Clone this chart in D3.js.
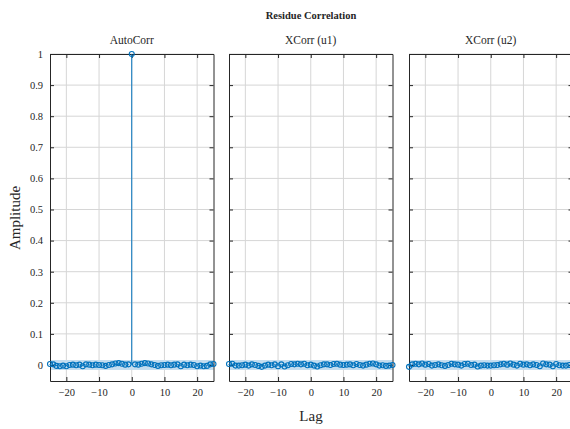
<!DOCTYPE html>
<html>
<head>
<meta charset="utf-8">
<script src="https://cdn.jsdelivr.net/npm/d3@7"></script>
<style>
body { margin: 0; background: #fff; }
text { font-family: "Liberation Serif", "DejaVu Serif", serif; fill: #262626; }
</style>
</head>
<body>
<svg id="chart" width="570" height="429"></svg>
<script>
var width = 570;
var height = 429;

var lags = d3.range(-25, 26);
var yTicks = [0, 0.1, 0.2, 0.3, 0.4, 0.5, 0.6, 0.7, 0.8, 0.9, 1];
var xTicks = [-20, -10, 0, 10, 20];
var confBound = 0.016;

var autoCorr = [0.003, 0.002, -0.003, -0.004, -0.002, -0.004, 0.000, 0.001, -0.001, 0.001,
	-0.004, 0.002, 0.001, -0.001, 0.001, 0.000, -0.001, -0.003, 0.000, 0.002,
	0.005, 0.006, 0.004, 0.001, 0.002, 1,
	0.002, 0.001, 0.004, 0.006, 0.005, 0.002, 0.000, -0.003, -0.001, 0.000,
	0.001, -0.001, 0.001, 0.002, -0.004, 0.001, -0.001, 0.001, 0.000, -0.004,
	-0.002, -0.004, -0.003, 0.002, 0.003];

var xCorrU1 = [0.003, 0.004, -0.002, -0.002, -0.001, 0.001, -0.002, 0.002, 0.000, -0.003,
	-0.006, -0.002, 0.001, -0.001, 0.002, -0.004, 0.002, -0.005, -0.001, 0.003,
	0.002, 0.004, 0.002, 0.004, -0.001, 0.001,
	-0.002, -0.005, -0.001, 0.002, 0.002, 0.000, 0.003, 0.004, 0.001, 0.000,
	0.001, 0.002, -0.001, 0.003, 0.000, -0.002, 0.001, 0.004, 0.005, 0.002,
	-0.002, -0.001, -0.003, -0.002, 0.000];

var xCorrU2 = [-0.006, 0.002, 0.004, 0.002, 0.005, 0.001, 0.003, -0.002, 0.000, 0.002,
	-0.001, -0.003, 0.000, 0.004, 0.002, 0.001, -0.002, 0.003, 0.004, 0.000,
	0.001, -0.005, -0.002, -0.001, -0.002, -0.002,
	-0.001, 0.000, 0.002, 0.004, 0.001, 0.005, 0.001, -0.002, 0.004, 0.001,
	0.002, -0.001, 0.002, 0.000, -0.004, 0.005, 0.002, 0.001, -0.004, 0.003,
	-0.001, -0.002, -0.002, 0.000, -0.002];

var panels = [
	{ title: 'AutoCorr', values: autoCorr, x0: 50, x1: 213.5, labels: true },
	{ title: 'XCorr (u1)', values: xCorrU1, x0: 229, x1: 392.5, labels: false },
	{ title: 'XCorr (u2)', values: xCorrU2, x0: 409, x1: 572.5, labels: false }
];

var plotTop = 54, plotBottom = 381;
var blue = '#0072bd';

var svg = d3.select('#chart');

var y = d3.scaleLinear().domain([-0.0515, 1]).range([plotBottom, plotTop]);

panels.forEach(function(p, i) {
	var x = d3.scaleLinear().domain([-25, 25]).range([p.x0, p.x1]);
	var g = svg.append('g');

	// grid
	g.selectAll('.vgrid').data(xTicks).enter().append('line')
	.attr('x1', function(d) { return x(d); }).attr('x2', function(d) { return x(d); })
	.attr('y1', plotTop).attr('y2', plotBottom)
	.style('stroke', '#d6d6d6').style('stroke-width', 1);
	g.selectAll('.hgrid').data(yTicks).enter().append('line')
	.attr('x1', p.x0).attr('x2', p.x1)
	.attr('y1', function(d) { return y(d); }).attr('y2', function(d) { return y(d); })
	.style('stroke', '#d6d6d6').style('stroke-width', 1);

	// confidence band
	g.append('rect')
	.attr('x', p.x0).attr('width', p.x1 - p.x0)
	.attr('y', y(confBound)).attr('height', y(-confBound) - y(confBound))
	.style('fill', '#c4ddef');

	// axes with inward ticks
	var bottomAxis = d3.axisBottom(x).tickValues(xTicks).tickSizeInner(-4).tickSizeOuter(0).tickPadding(8)
	.tickFormat(function(d) { return d < 0 ? '\u2212' + Math.abs(d) : d; });
	var topAxis = d3.axisTop(x).tickValues(xTicks).tickSizeInner(-4).tickSizeOuter(0).tickFormat('');
	var leftAxis = d3.axisLeft(y).tickValues(yTicks).tickSizeInner(-4).tickSizeOuter(0).tickPadding(7)
	.tickFormat(p.labels ? function(d) { return d; } : '');
	var rightAxis = d3.axisRight(y).tickValues(yTicks).tickSizeInner(-4).tickSizeOuter(0).tickFormat('');

	g.append('g').attr('transform', 'translate(0,' + plotBottom + ')').call(bottomAxis);
	g.append('g').attr('transform', 'translate(0,' + plotTop + ')').call(topAxis);
	g.append('g').attr('transform', 'translate(' + p.x0 + ',0)').call(leftAxis);
	g.append('g').attr('transform', 'translate(' + p.x1 + ',0)').call(rightAxis);

	g.selectAll('.domain').style('stroke', '#262626').style('stroke-width', 1);
	g.selectAll('.tick line').style('stroke', '#262626');
	g.selectAll('.tick text').style('font-family', '"Liberation Serif", serif').style('font-size', '10.5px').style('fill', '#262626');

	// stems
	g.selectAll('.stem').data(lags).enter().append('line')
	.attr('x1', function(d) { return x(d); }).attr('x2', function(d) { return x(d); })
	.attr('y1', y(0)).attr('y2', function(d, j) { return y(p.values[j]); })
	.style('stroke', blue).style('stroke-width', 1);

	g.selectAll('.marker').data(lags).enter().append('circle')
	.attr('cx', function(d) { return x(d); })
	.attr('cy', function(d, j) { return y(p.values[j]); })
	.attr('r', 2.5)
	.style('fill', 'none').style('stroke', blue).style('stroke-width', 1.1);

	g.append('text')
	.attr('x', (p.x0 + p.x1) / 2).attr('y', 44)
	.attr('text-anchor', 'middle')
	.style('font-size', '11.5px')
	.text(p.title);
});

svg.append('text')
.attr('x', 311).attr('y', 19)
.attr('text-anchor', 'middle')
.style('font-size', '10.5px').style('font-weight', 'bold')
.text('Residue Correlation');

svg.append('text')
.attr('transform', 'translate(20,218) rotate(-90)')
.attr('text-anchor', 'middle')
.style('font-size', '15px')
.text('Amplitude');

svg.append('text')
.attr('x', 311).attr('y', 421)
.attr('text-anchor', 'middle')
.style('font-size', '15px')
.text('Lag');
</script>
</body>
</html>
